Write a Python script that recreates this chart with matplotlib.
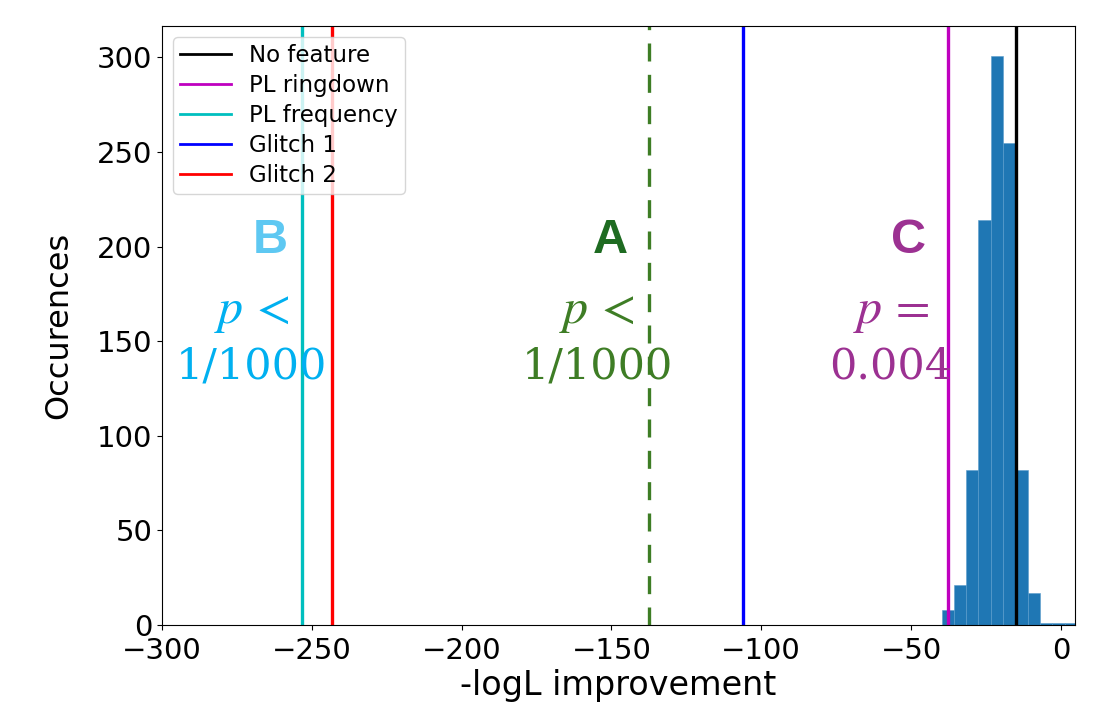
import numpy as np
import matplotlib.pyplot as plt

plt.rcParams.update({
    'font.family': 'DejaVu Sans',
    'mathtext.fontset': 'stix',
})

# histogram
bin_edges = [-39.8, -35.7, -31.6, -27.5, -23.4, -19.3, -15.1, -11.0, -6.9, -2.8, 1.3, 5.4]
counts = [8, 21, 82, 214, 301, 255, 82, 17, 1, 1, 1]

# reference lines (-logL improvement)
line_labels = ['No feature', 'PL ringdown', 'PL frequency', 'Glitch 1', 'Glitch 2']
line_values = [-15.1, -37.8, -253.4, -106.0, -243.1]
line_colors = ['k', 'm', 'c', 'b', 'r']
dashed_value = -137.4

# annotations: letter, p-value text, x of letter, x of p text, colours
annot_letters = ['B', 'A', 'C']
annot_p_top = [r'$p\,<$', r'$p\,<$', r'$p\,=$']
annot_p_bottom = ['1/1000', '1/1000', '0.004']
annot_letter_x = [-264, -150.2, -50.7]
annot_p_x = [-270, -154.8, -56.7]
annot_letter_colors = ['#5ec8f2', '#1e6b21', '#9c3192']
annot_p_colors = ['#00b0f0', '#3e7d25', '#9c3192']

fig, ax = plt.subplots(figsize=(10.96, 7.08), dpi=100)
fig.subplots_adjust(left=0.1478, right=0.9808, bottom=0.1172, top=0.9633)

edges = np.array(bin_edges)
ax.hist(edges[:-1], bins=edges, weights=counts, color='#1f77b4',
        edgecolor='#5a9ccc', linewidth=0.4)

for val, col, lab in zip(line_values, line_colors, line_labels):
    ax.axvline(val, color=col, lw=2.4, label=lab)
ax.axvline(dashed_value, color='#3e7d25', lw=2.4, dashes=(5.4, 4.0))

for i in range(len(annot_letters)):
    ax.text(annot_letter_x[i], 196.6, annot_letters[i], color=annot_letter_colors[i],
            fontsize=35, fontweight='bold', family='Liberation Sans',
            ha='center', va='baseline')
    ax.text(annot_p_x[i], 159.6, annot_p_top[i], color=annot_p_colors[i],
            fontsize=36, ha='center', va='baseline')
    ax.text(annot_p_x[i], 130.5, annot_p_bottom[i], color=annot_p_colors[i],
            fontsize=31, family='DejaVu Serif', ha='center', va='baseline')

ax.set_xlim(-300, 4.7)
ax.set_ylim(0, 316.6)
ax.set_xticks(np.arange(-300, 1, 50))
ax.set_yticks(np.arange(0, 301, 50))
ax.tick_params(labelsize=21)
ax.tick_params(axis='x', pad=5)
ax.set_xlabel('-logL improvement', fontsize=24, labelpad=3)
ax.set_ylabel('Occurences', fontsize=23, labelpad=16)
leg = ax.legend(loc='upper left', fontsize=16.5, labelspacing=0.3,
                borderpad=0.3, handlelength=2.2)
for h in leg.get_lines():
    h.set_linewidth(2.0)

fig.savefig('out.png', dpi=100)
